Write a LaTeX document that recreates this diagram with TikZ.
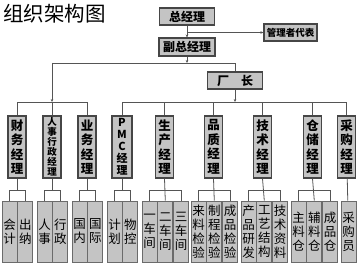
\documentclass[tikz,border=0pt]{standalone}
\usepackage{fontspec}
\newfontfamily\cjk{Noto Sans CJK SC}
\usetikzlibrary{positioning, calc, arrows.meta}
\definecolor{boxgray}{HTML}{C4C4C4}
\definecolor{edgegray}{HTML}{464646}
\definecolor{linegray}{HTML}{555555}

\begin{document}
\begin{tikzpicture}[
    x=1pt, y=-1pt,
    node distance=0pt,
    headbox/.style={rectangle, draw=edgegray, line width=1.1pt, fill=boxgray, minimum height=17pt, inner sep=0pt, font=\cjk\bfseries\fontsize{12}{14}\selectfont},
    mgrbox/.style={rectangle, draw=edgegray, line width=1.1pt, fill=boxgray, minimum width=18pt, minimum height=62pt, inner sep=0pt, align=center, font=\cjk\bfseries\fontsize{12.5}{14.5}\selectfont},
    subbox/.style={rectangle, draw=edgegray!80, line width=0.8pt, fill=boxgray, minimum width=15pt, minimum height=61pt, inner sep=0pt, align=center, font=\cjk\fontsize{12.5}{14}\selectfont},
    conn/.style={draw=linegray, line width=0.8pt},
    arrow/.style={conn, -{Stealth[length=3pt, width=2.6pt]}}
]
    \useasboundingbox (0,0) rectangle (362,267);
    \node[anchor=north west, inner sep=0pt, font=\cjk\fontsize{20.5}{20.5}\selectfont] (title) at (3,4.5) {组织架构图};

    % top levels
    \node[headbox, minimum width=55pt] (zjl) at (187,16.5) {总经理};
    \node[headbox, minimum width=53pt, font=\cjk\bfseries\fontsize{9.5}{11}\selectfont] (gldb) at (290.5,32.5) {管理者代表};
    \node[headbox, minimum width=56pt, minimum height=18pt] (fzjl) at (187,47) {副总经理};
    \node[headbox, minimum width=55pt] (cz) at (235,80.5) {厂\quad 长};

    % managers
    \node[mgrbox] (cw) at (17,147) {财\\务\\经\\理};
    \node[mgrbox, font=\cjk\bfseries\fontsize{9.5}{10}\selectfont] (rs) at (52,147) {人\\事\\行\\政\\经\\理};
    \node[mgrbox] (yw) at (87,147) {业\\务\\经\\理};
    \node[mgrbox, minimum width=20pt, font=\cjk\bfseries\fontsize{11}{12}\selectfont] (pmc) at (122,147) {P\\M\\C\\经\\理};
    \node[mgrbox] (sc) at (164.5,147) {生\\产\\经\\理};
    \node[mgrbox] (pz) at (213.5,147) {品\\质\\经\\理};
    \node[mgrbox] (js) at (262.5,147) {技\\术\\经\\理};
    \node[mgrbox] (cc) at (312.5,147) {仓\\储\\经\\理};
    \node[mgrbox] (cg) at (346.5,147) {采\\购\\经\\理};

    % sub departments
    \node[subbox] (kj) at (9.5,231.5) {会\\计};
    \node[subbox, right=of kj] (cn) {出\\纳};
    \node[subbox] (rsh) at (44.5,231.5) {人\\事};
    \node[subbox, right=of rsh] (xz) {行\\政};
    \node[subbox] (gn) at (79.5,231.5) {国\\内};
    \node[subbox, right=of gn] (gj) {国\\际};
    \node[subbox] (jh) at (114.5,231.5) {计\\划};
    \node[subbox, right=of jh] (wk) {物\\控};
    \node[subbox] (cj1) at (149.5,231.5) {一\\车\\间};
    \node[subbox, right=of cj1] (cj2) {二\\车\\间};
    \node[subbox, right=of cj2] (cj3) {三\\车\\间};
    \node[subbox] (ll) at (198.5,231.5) {来\\料\\检\\验};
    \node[subbox, right=of ll] (zc) {制\\程\\检\\验};
    \node[subbox, right=of zc] (cpj) {成\\品\\检\\验};
    \node[subbox] (yf) at (248.5,231.5) {产\\品\\研\\发};
    \node[subbox, right=of yf] (gy) {工\\艺\\结\\构};
    \node[subbox, right=of gy] (zl) {技\\术\\资\\料};
    \node[subbox] (zlc) at (298.5,231.5) {主\\料\\仓};
    \node[subbox, right=of zlc] (flc) {辅\\料\\仓};
    \node[subbox, right=of flc] (cpc) {成\\品\\仓};
    \node[subbox] (cgy) at (348.5,231.5) {采\\购\\员};

    % connectors
    \coordinate (topL) at (52,63);
    \coordinate (barL) at (52,102);
    \coordinate (barR) at (235,102);
    \draw[arrow] (zjl) -- (fzjl);
    \draw[arrow] (zjl.south |- gldb.west) -- (gldb.west);
    \draw[arrow] (fzjl) -- (fzjl |- topL);
    \draw[conn] (cz.north) |- (topL);
    \draw[arrow] (topL) -- (barL);
    \draw[arrow] (cz) -- (barR);
    \draw[conn] (cw.north) |- (yw.north |- barL) -- (yw.north);
    \draw[conn] (rs.north) -- (rs.north |- barL);
    \draw[conn] (pmc.north) |- (cg.north |- barR) -- (cg.north);
    \foreach \m in {sc, pz, js, cc}
        \draw[conn] (\m.north) -- (\m.north |- barR);
    \foreach \m/\a/\b in {cw/kj/cn, rs/rsh/xz, yw/gn/gj, pmc/jh/wk} {
        \draw[conn] (\m.south) -- ++(0,-12pt) coordinate (fork);
        \draw[conn] (\a.north) |- (fork) -| (\b.north);
    }
    \foreach \m/\a/\b/\c in {sc/cj1/cj2/cj3, pz/ll/zc/cpj, js/yf/gy/zl, cc/zlc/flc/cpc} {
        \draw[conn] (\m.south) -- (\b.north);
        \draw[conn] (\a.north) |- ($(\m.south)+(0,-12pt)$) -| (\c.north);
    }
    \draw[conn] (cg) -- (cgy);
\end{tikzpicture}
\end{document}
